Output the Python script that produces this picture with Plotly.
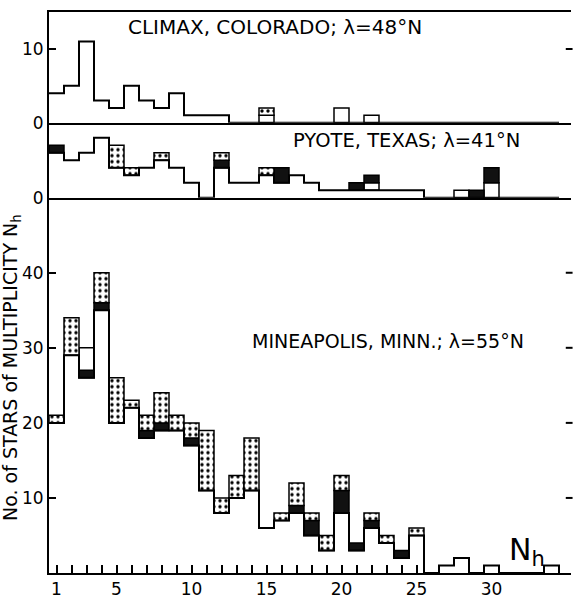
import plotly.graph_objects as go

bins = list(range(1, 35))

# ---- CLIMAX, COLORADO ----
climax_base       = [4,5,11,3,2,5,3,2,4,1, 1,1,0,0,0,0,0,0,0,0, 0,0,0,0,0,0,0,0,0,0, 0,0,0,0]
climax_white_low  = [0,0,0,0,0,0,0,0,0,0, 0,0,0,0,1,0,0,0,0,2, 0,1,0,0,0,0,0,0,0,0, 0,0,0,0]
climax_black      = [0]*34
climax_white_high = [0]*34
climax_dotted     = [0,0,0,0,0,0,0,0,0,0, 0,0,0,0,1,0,0,0,0,0, 0,0,0,0,0,0,0,0,0,0, 0,0,0,0]

# ---- PYOTE, TEXAS ----
pyote_base        = [6,5,6,8,4,3,4,5,4,2, 0,4,2,2,3,2,3,2,1,1, 1,1,1,1,1,0,0,0,0,0, 0,0,0,0]
pyote_white_low   = [0,0,0,0,0,0,0,0,0,0, 0,0,0,0,0,0,0,0,0,0, 0,1,0,0,0,0,0,1,0,2, 0,0,0,0]
pyote_black       = [1,0,0,0,0,0,0,0,0,0, 0,1,0,0,0,2,0,0,0,0, 1,1,0,0,0,0,0,0,1,2, 0,0,0,0]
pyote_white_high  = [0]*34
pyote_dotted      = [0,0,0,0,3,1,0,1,0,0, 0,1,0,0,1,0,0,0,0,0, 0,0,0,0,0,0,0,0,0,0, 0,0,0,0]

# ---- MINEAPOLIS, MINN. ----
minn_base         = [20,29,26,35,20,22,18,19,19,17, 11,8,10,11,6,7,8,5,3,8, 3,6,4,2,5,0,1,2,0,1, 0,0,0,1]
minn_white_low    = [0]*34
minn_black        = [0,0,1,1,0,0,1,1,0,1, 0,0,0,0,0,0,1,2,0,3, 1,1,0,1,0,0,0,0,0,0, 0,0,0,0]
minn_white_high   = [0,0,3,0,0,0,0,0,0,0, 0,0,0,0,0,0,0,0,0,0, 0,0,0,0,0,0,0,0,0,0, 0,0,0,0]
minn_dotted       = [1,5,0,4,6,1,2,4,2,2, 8,2,3,7,0,1,3,1,2,2, 0,1,1,0,1,0,0,0,0,0, 0,0,0,0]

x_tick_labels = [1, 5, 10, 15, 20, 25, 30]
x_minor_ticks = list(range(1, 26))

FONT = "DejaVu Sans, sans-serif"

fig = go.Figure()

panels = [
    ("x3", "y3", climax_base, climax_white_low, climax_black, climax_white_high, climax_dotted),
    ("x2", "y2", pyote_base, pyote_white_low, pyote_black, pyote_white_high, pyote_dotted),
    ("x", "y", minn_base, minn_white_low, minn_black, minn_white_high, minn_dotted),
]

for xa, ya, base, wlow, blk, whigh, dot in panels:
    # step outline of the histogram
    edges = [b - 0.5 for b in bins] + [bins[-1] + 0.5]
    fig.add_trace(go.Scatter(
        x=edges, y=list(base) + [0], mode="lines", line_shape="hv",
        line=dict(color="black", width=2), xaxis=xa, yaxis=ya,
        showlegend=False, hoverinfo="skip"))
    cur = list(base)
    for seg, style in ((wlow, "white"), (blk, "black"), (whigh, "white"), (dot, "dot")):
        xs, hs, bs = [], [], []
        for i, h in enumerate(seg):
            if h > 0:
                xs.append(bins[i]); hs.append(h); bs.append(cur[i])
            cur[i] += h
        if not xs:
            continue
        if style == "black":
            marker = dict(color="#111111", line=dict(color="black", width=1.5))
        elif style == "white":
            marker = dict(color="white", line=dict(color="black", width=1.5))
        else:
            marker = dict(color="white", line=dict(color="black", width=1.5),
                          pattern=dict(shape=".", fgcolor="black", bgcolor="white",
                                       size=6, solidity=0.25, fillmode="replace"))
        fig.add_trace(go.Bar(x=xs, y=hs, base=bs, width=1, marker=marker,
                             xaxis=xa, yaxis=ya, showlegend=False, hoverinfo="skip"))

xr = [0.5, 35.3]
d1 = 0.669
d2 = 0.8027
axis_common = dict(showgrid=False, zeroline=False, showline=True, linecolor="black",
                   linewidth=2, automargin=False)
tickfont = dict(family=FONT, size=17, color="black")

fig.update_layout(
    width=574, height=599,
    margin=dict(l=49, r=3, t=12, b=26),
    paper_bgcolor="white", plot_bgcolor="white",
    barmode="overlay",
    xaxis=dict(domain=[0, 1], range=xr, anchor="y", tickvals=x_tick_labels,
               ticktext=[str(v) for v in x_tick_labels], ticks="",
               tickfont=tickfont,
               minor=dict(tickmode="array", tickvals=x_minor_ticks, ticks="inside",
                          ticklen=8, tickwidth=1.5, tickcolor="black"),
               **axis_common),
    xaxis2=dict(domain=[0, 1], range=xr, anchor="y2", showticklabels=False, ticks="",
                **axis_common),
    xaxis3=dict(domain=[0, 1], range=xr, anchor="y3", showticklabels=False, ticks="",
                mirror=True, **axis_common),
    yaxis=dict(domain=[0, d1], range=[0, 50], anchor="x", tickvals=[10, 20, 30, 40],
               ticks="inside", ticklen=7, tickwidth=2, tickcolor="black",
               tickfont=tickfont, **axis_common),
    yaxis2=dict(domain=[d1, d2], range=[0, 10], anchor="x2", tickvals=[0],
                ticks="inside", ticklen=7, tickwidth=2, tickcolor="black",
                tickfont=tickfont, **axis_common),
    yaxis3=dict(domain=[d2, 1], range=[0, 15], anchor="x3", tickvals=[0, 10],
                ticks="inside", ticklen=7, tickwidth=2, tickcolor="black",
                tickfont=tickfont, **axis_common),
)

# right-side tick marks
shapes = []
for v in [10, 20, 30, 40]:
    shapes.append(dict(type="line", xref="paper", yref="y", x0=0.99, x1=1.003, y0=v, y1=v,
                       line=dict(color="black", width=2)))
shapes.append(dict(type="line", xref="paper", yref="y3", x0=0.99, x1=1.003, y0=10, y1=10,
                   line=dict(color="black", width=2)))
fig.update_layout(shapes=shapes)

def px2paper(px, py):
    return (px - 49) / 522.0, (573 - py) / 561.0

anns = []
for text, px, py, size in [
    ("CLIMAX, COLORADO; λ=48°N", 275, 27, 20),
    ("PYOTE, TEXAS; λ=41°N", 406, 140, 19.5),
    ("MINEAPOLIS, MINN.; λ=55°N", 388, 341, 19),
    ("N<sub>h</sub>", 527, 551, 30),
]:
    x, y = px2paper(px, py)
    anns.append(dict(text=text, x=x, y=y, xref="paper", yref="paper", showarrow=False,
                     xanchor="center", yanchor="middle",
                     font=dict(family=FONT, size=size, color="black")))
x, y = px2paper(12, 368)
anns.append(dict(text="No. of STARS of MULTIPLICITY N<sub>h</sub>", x=x, y=y,
                 xref="paper", yref="paper", showarrow=False, textangle=-90,
                 xanchor="center", yanchor="middle",
                 font=dict(family=FONT, size=19, color="black")))
fig.update_layout(annotations=anns)

fig.write_html("out.html")
